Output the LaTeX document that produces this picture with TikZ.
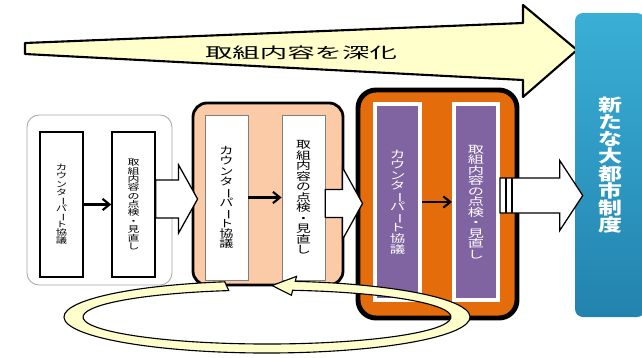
\documentclass[tikz,border=0pt]{standalone}
\usepackage{fontspec}
\usepackage{graphicx}
\usepackage{tikz}
\usetikzlibrary{arrows,arrows.meta}
\usetikzlibrary{calc}
\newfontfamily\jp{Noto Sans CJK JP}
\newcommand{\pxu}{0.025cm}
\newcommand{\chobo}{\rotatebox[origin=c]{-90}{ー}}
\newcommand{\tate}[3]{\scalebox{1}[#2]{\parbox{\dimexpr#1pt*14/10\relax}{\centering\jp\fontsize{#1}{#1}\selectfont\lineskiplimit=-20pt #3}}}
\newcommand{\counterpart}{カ\\ウ\\ン\\タ\\\chobo\\パ\\\chobo\\ト\\協\\議}
\newcommand{\review}{取\\組\\内\\容\\の\\点\\検\\・\\見\\直\\し}
\definecolor{paleyellow}{HTML}{FFFFCC}
\definecolor{peach}{HTML}{FBCBA7}
\definecolor{deeporange}{HTML}{E46C0A}
\definecolor{boxpurple}{HTML}{8064A2}
\definecolor{goaltop}{HTML}{3AAFD6}
\definecolor{goalbottom}{HTML}{2283AE}
\tikzstyle{outerbox}=[rectangle,rounded corners=0.3cm,draw=black!35,fill=white,line width=0.6pt]
\tikzstyle{stagebox}=[rectangle,rounded corners=0.35cm,draw=black,fill=peach,line width=2pt]
\tikzstyle{lastbox}=[rectangle,rounded corners=0.45cm,draw=black,fill=deeporange,line width=3.5pt]
\tikzstyle{plainstep}=[rectangle,draw=black,fill=white,line width=1pt,inner sep=0pt]
\tikzstyle{lightstep}=[rectangle,draw=black!50,fill=white,line width=0.5pt,inner sep=0pt]
\tikzstyle{purplestep}=[rectangle,draw=white,fill=boxpurple,line width=2.8pt,inner sep=0pt,text=white]
\tikzstyle{goal}=[rectangle,rounded corners=0.2cm,top color=goaltop,bottom color=goalbottom,inner sep=0pt,text=white]
\tikzstyle{flow}=[draw,-{Straight Barb[length=5pt,width=8pt]},line width=1.5pt]
\tikzstyle{blockarrow}=[draw=black,fill=white,line width=0.9pt,line join=miter]
\tikzstyle{bigarrow}=[draw=black,fill=paleyellow,line width=1.5pt,line join=round]
\tikzstyle{loopband}=[draw=black,fill=paleyellow,line width=0.8pt]
% from, to, shaft half, head half, head length, overshoot, y shift
\newcommand{\blockarrow}[7]{%
  \draw[blockarrow] ($(#1.east)+(0,#7-#3)$) -- ($(#1.east -| #2.west)+(#6-#5,#7-#3)$)
    -- ($(#1.east -| #2.west)+(#6-#5,#7-#4)$) -- ($(#1.east -| #2.west)+(#6,#7)$)
    -- ($(#1.east -| #2.west)+(#6-#5,#7+#4)$) -- ($(#1.east -| #2.west)+(#6-#5,#7+#3)$)
    -- ($(#1.east)+(0,#7+#3)$) -- cycle;}

\begin{document}
\begin{tikzpicture}[x=0.025cm,y=-0.025cm]
  \useasboundingbox (0,0) rectangle (642,357);

  % deepening arrow on top
  \draw[bigarrow] (25,43) -- (523,23) -- (523,5) -- (577,50) -- (523,97) -- (523,80) -- (25,54) -- cycle;
  \node (deepen) at (301,53) {\scalebox{1}[0.55]{\jp\fontsize{19.5}{19.5}\selectfont 取組内容を深化}};

  % first round
  \node[outerbox, minimum width=145*\pxu, minimum height=170*\pxu] (box1) at (99.5,200) {};
  \node[plainstep, minimum width=43*\pxu, minimum height=145*\pxu] (a1) at (61.5,204.5) {\tate{8}{0.72}{\counterpart}};
  \node[plainstep, minimum width=43*\pxu, minimum height=145*\pxu] (b1) at (133.5,204.5) {\tate{8.5}{0.7}{\review}};

  % second round
  \node[stagebox, minimum width=150*\pxu, minimum height=182*\pxu] (box2) at (268,194) {};
  \node[lightstep, minimum width=43*\pxu, minimum height=165*\pxu] (a2) at (226.5,197.5) {\tate{10}{0.74}{\counterpart}};
  \node[lightstep, minimum width=43*\pxu, minimum height=165*\pxu] (b2) at (303.5,197.5) {\tate{10.5}{0.71}{\review}};

  % third round
  \node[lastbox, minimum width=159*\pxu, minimum height=228*\pxu] (box3) at (437.5,204) {};
  \node[purplestep, minimum width=45*\pxu, minimum height=196*\pxu] (a3) at (397.5,202) {\tate{11}{0.68}{\counterpart}};
  \node[purplestep, minimum width=44*\pxu, minimum height=196*\pxu] (b3) at (476,202) {\tate{11.5}{0.65}{\review}};

  % goal
  \node[goal, minimum width=70*\pxu, minimum height=304*\pxu] (goal) at (610,165) {\tate{17}{0.72}{\bfseries 新\\た\\な\\大\\都\\市\\制\\度}};

  \foreach \s/\d in {a1/b1, a2/b2, a3/b3}
    \path[flow] (\s) -- (\d);

  \foreach \s/\d/\sh/\hh/\hl/\ov/\dy in {b1/box2/19/34/19/6/-5.5, b2/box3/14/36/20/7/6, b3/goal/17.5/35/23/8/-6.5}
    \blockarrow{\s}{\d}{\sh}{\hh}{\hl}{\ov}{\dy};
  \draw[line width=1.2pt] ($(b3.east)+(6,-24)$) -- ($(b3.east)+(6,11)$);
  \draw[line width=1.2pt] ($(b3.east)+(12,-24)$) -- ($(b3.east)+(12,11)$);

  % review loop
  \coordinate (loopc) at (267,317);
  \draw[loopband] ($(loopc)+(258:203 and 36)$)
    arc[start angle=258, end angle=-82, x radius=203, y radius=36]
    -- ($(loopc)+(-82:212 and 41)$) -- ($(loopc)+(-88.5:193.5 and 31.5)$)
    -- ($(loopc)+(-82:175 and 22)$) -- ($(loopc)+(-82:184 and 27)$)
    arc[start angle=-82, end angle=258, x radius=184, y radius=27] -- cycle;
\end{tikzpicture}
\end{document}
